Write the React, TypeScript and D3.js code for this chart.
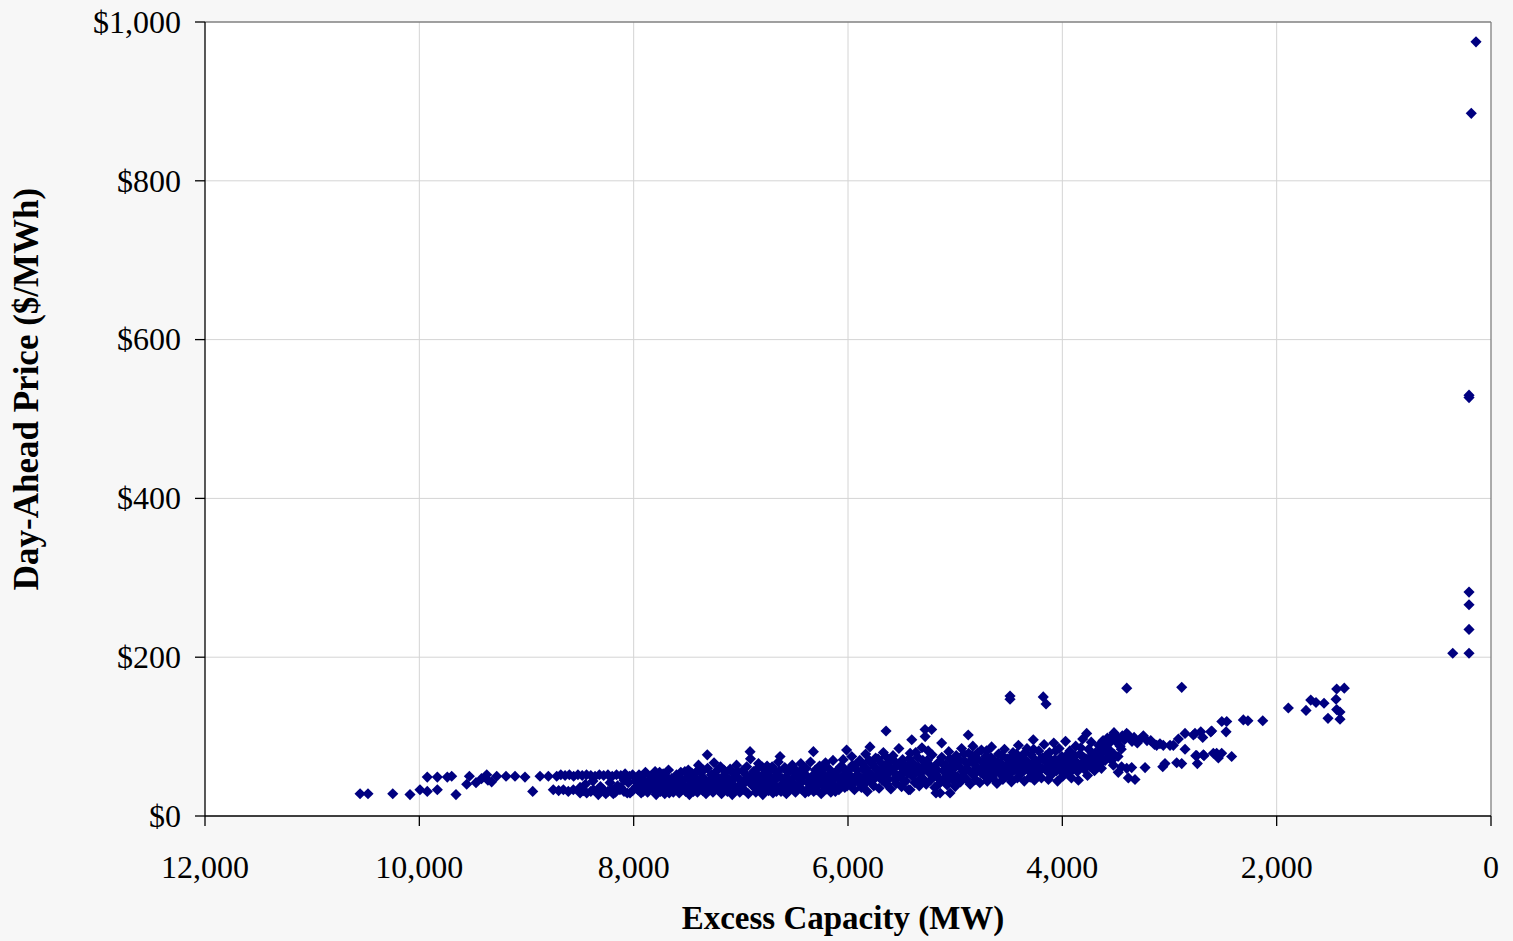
import React from "react";
import * as d3 from "d3";

// Day-ahead price versus excess capacity, one point per hour: [excess MW, $/MWh]
type Pt = [number, number];

const xTicks = [12000, 10000, 8000, 6000, 4000, 2000, 0];
const yTicks = [0, 200, 400, 600, 800, 1000];

const tailHours: Pt[] = [
  [10553, 28], [10479, 28], [10248, 28], [10087, 27],
  [9994, 33], [9926, 31], [9832, 33], [9658, 27], [9926, 49], [9832, 49], [9739, 49], [9698, 50],
  [9533, 50], [9558, 40], [9471, 42], [9371, 52], [9325, 43], [9278, 50], [9191, 50], [9107, 50],
  [9014, 49], [8942, 31], [9420, 47], [9360, 45],
];

const band9000: Pt[] = [
  [8874, 50], [8796, 50], [8718, 50], [8680, 52], [8640, 51], [8600, 52], [8560, 50], [8520, 52],
  [8480, 51], [8440, 52], [8400, 51], [8360, 50], [8320, 52], [8280, 51], [8240, 52], [8200, 50],
  [8160, 52], [8120, 51], [8080, 53], [8040, 50], [8010, 52],
  [8750, 33], [8700, 32], [8656, 33], [8610, 31], [8563, 33], [8500, 29], [8470, 32], [8438, 29],
  [8400, 31], [8376, 33], [8340, 30], [8300, 32], [8283, 33], [8240, 31], [8205, 33], [8170, 30],
  [8128, 33], [8090, 31], [8060, 29], [8034, 29], [8010, 32],
  [8450, 40], [8380, 44], [8310, 37], [8220, 42], [8150, 38], [8090, 45], [8500, 36],
  [8190, 28], [8120, 36], [8050, 42], [8260, 28], [8330, 27],
];

const band8000: Pt[] = [
  [7960, 33], [7950, 52], [7940, 41], [7930, 29], [7920, 47], [7905, 36], [7890, 55],
  [7870, 30], [7860, 44], [7845, 50], [7830, 38], [7815, 33], [7800, 56], [7790, 27],
  [7780, 42], [7765, 48], [7750, 31], [7740, 36], [7725, 53], [7710, 28], [7700, 45],
  [7690, 39], [7675, 58], [7660, 33], [7645, 47], [7630, 30], [7615, 42], [7600, 52],
  [7590, 36], [7575, 29], [7560, 55], [7545, 44], [7530, 38], [7515, 31], [7500, 49],
  [7490, 58], [7480, 27], [7465, 41], [7450, 35], [7435, 52], [7420, 46], [7405, 30],
  [7395, 64], [7380, 38], [7370, 55], [7355, 32], [7340, 47], [7325, 28], [7313, 77], [7310, 60], [7300, 43],
  [7290, 36], [7275, 52], [7260, 30], [7250, 67], [7240, 45], [7225, 57], [7210, 33], [7200, 40],
  [7190, 62], [7180, 28], [7165, 50], [7150, 37], [7140, 55], [7125, 31], [7110, 46], [7100, 59],
  [7090, 42], [7080, 27], [7065, 53], [7050, 35], [7040, 64], [7025, 48], [7010, 30], [7000, 40],
];

const band8000b: Pt[] = [
  [7985, 44], [7975, 37], [7912, 31], [7880, 40], [7852, 34], [7822, 46], [7808, 41], [7772, 35],
  [7758, 55], [7732, 43], [7718, 38], [7682, 48], [7668, 29], [7652, 40], [7622, 35], [7608, 46],
  [7582, 50], [7568, 40], [7552, 33], [7522, 56], [7508, 36], [7472, 48], [7458, 54], [7442, 31],
  [7428, 39], [7412, 56], [7388, 45], [7362, 41], [7348, 58], [7332, 37], [7282, 45], [7268, 40],
  [7232, 35], [7218, 49], [7172, 44], [7158, 58], [7132, 42], [7118, 36], [7072, 46], [7058, 31],
  [7032, 56], [7018, 38],
];

const band7000: Pt[] = [
  [6985, 57], [6970, 33], [6960, 46], [6945, 62], [6930, 28], [6914, 81], [6910, 72], [6900, 51], [6890, 38],
  [6875, 44], [6860, 30], [6850, 59], [6835, 66], [6820, 35], [6810, 48], [6795, 27], [6780, 54],
  [6770, 41], [6755, 63], [6740, 32], [6730, 50], [6715, 45], [6700, 29], [6690, 58], [6675, 37],
  [6660, 52], [6650, 68], [6634, 75], [6625, 31], [6610, 47], [6600, 40], [6590, 61], [6575, 28],
  [6560, 55], [6545, 43], [6530, 35], [6520, 64], [6505, 49], [6490, 30], [6480, 57], [6465, 39],
  [6450, 46], [6440, 66], [6425, 33], [6410, 53], [6400, 29], [6390, 60], [6375, 42], [6360, 36],
  [6350, 68], [6335, 50], [6323, 81], [6320, 31], [6305, 58], [6290, 45], [6280, 38], [6265, 63],
  [6250, 28], [6240, 54], [6225, 41], [6210, 67], [6200, 34], [6190, 48], [6175, 59], [6160, 30],
  [6150, 44], [6140, 70], [6125, 37], [6110, 56], [6100, 49], [6085, 33], [6070, 62], [6060, 42],
  [6045, 71], [6030, 36], [6020, 53], [6013, 83], [6005, 46],
];

const band7000b: Pt[] = [
  [6978, 40], [6952, 52], [6922, 43], [6882, 56], [6868, 36], [6842, 51], [6828, 40], [6802, 62],
  [6788, 36], [6762, 47], [6748, 55], [6722, 38], [6708, 62], [6682, 45], [6668, 31], [6642, 57],
  [6618, 40], [6582, 48], [6568, 36], [6552, 32], [6538, 60], [6512, 41], [6498, 55], [6472, 34],
  [6458, 52], [6432, 43], [6418, 60], [6382, 50], [6368, 31], [6342, 45], [6312, 40], [6298, 33],
  [6272, 50], [6258, 44], [6232, 60], [6218, 36], [6182, 40], [6168, 52], [6132, 48], [6118, 31],
  [6092, 58], [6078, 40], [6052, 50], [6038, 60], [6008, 38],
];

const band6000: Pt[] = [
  [5990, 58], [5980, 39], [5965, 75], [5950, 47], [5940, 33], [5925, 65], [5910, 52], [5900, 42],
  [5890, 70], [5875, 36], [5860, 59], [5850, 48], [5835, 78], [5820, 31], [5810, 55], [5795, 87],
  [5790, 44], [5775, 66], [5760, 38], [5750, 61], [5735, 50], [5720, 72], [5710, 35], [5695, 57],
  [5680, 45], [5670, 80], [5655, 63], [5645, 107], [5640, 40], [5630, 53], [5615, 68], [5600, 34],
  [5590, 59], [5580, 76], [5565, 47], [5550, 41], [5540, 64], [5525, 85], [5515, 52], [5500, 37],
  [5490, 71], [5475, 56], [5460, 44], [5450, 62], [5435, 33], [5421, 33], [5420, 79], [5405, 96],
  [5400, 50], [5390, 66], [5375, 42], [5360, 58], [5350, 74], [5335, 38], [5320, 54], [5310, 86],
  [5300, 47], [5290, 63], [5281, 109], [5280, 100], [5270, 40], [5260, 70], [5245, 55], [5230, 45],
  [5219, 109], [5215, 77], [5200, 60], [5190, 36], [5179, 29], [5175, 52], [5160, 67], [5141, 29],
  [5140, 42], [5126, 92], [5125, 74], [5110, 57], [5100, 48], [5090, 64], [5075, 39], [5060, 81],
  [5048, 29], [5045, 53], [5030, 70], [5020, 45], [5010, 60], [5000, 37],
];

const band6000b: Pt[] = [
  [5972, 50], [5958, 64], [5932, 44], [5918, 58], [5882, 48], [5868, 66], [5842, 41], [5828, 60],
  [5802, 70], [5782, 52], [5768, 45], [5742, 73], [5728, 58], [5702, 48], [5688, 66], [5662, 52],
  [5648, 75], [5622, 46], [5608, 60], [5572, 55], [5558, 68], [5532, 50], [5508, 62], [5482, 45],
  [5468, 64], [5442, 54], [5428, 72], [5412, 60], [5382, 52], [5368, 80], [5342, 62], [5328, 46],
  [5302, 70], [5268, 58], [5252, 82], [5238, 64], [5208, 50], [5168, 58], [5152, 47], [5118, 66],
  [5082, 55], [5068, 46], [5052, 72], [5038, 60], [5012, 51],
];

const band5000: Pt[] = [
  [4990, 76], [4980, 50], [4965, 63], [4950, 43], [4940, 85], [4925, 56], [4910, 69], [4900, 47],
  [4890, 60], [4878, 102], [4875, 79], [4860, 40], [4850, 54], [4835, 88], [4820, 65], [4810, 46],
  [4795, 72], [4780, 58], [4770, 42], [4755, 83], [4740, 62], [4730, 51], [4715, 75], [4700, 44],
  [4690, 67], [4675, 56], [4660, 87], [4650, 48], [4635, 70], [4620, 60], [4610, 41], [4595, 78],
  [4580, 53], [4570, 66], [4555, 46], [4540, 84], [4530, 61], [4515, 72], [4500, 50], [4488, 151],
  [4488, 147], [4490, 65], [4475, 43], [4460, 80], [4450, 58], [4435, 69], [4420, 48], [4410, 89],
  [4395, 62], [4380, 54], [4370, 74], [4355, 44], [4340, 66], [4330, 85], [4315, 57], [4300, 49],
  [4290, 77], [4271, 96], [4275, 63], [4260, 45], [4250, 70], [4235, 55], [4220, 82], [4210, 60],
  [4178, 150], [4152, 141],
];

const band5000b: Pt[] = [
  [4985, 64], [4958, 70], [4932, 50], [4918, 78], [4895, 58], [4868, 68], [4842, 76], [4828, 52],
  [4802, 60], [4788, 80], [4762, 55], [4748, 68], [4722, 60], [4708, 82], [4682, 50], [4668, 74],
  [4642, 62], [4628, 54], [4602, 68], [4588, 60], [4562, 76], [4548, 56], [4522, 52], [4508, 64],
  [4482, 74], [4468, 56], [4442, 64], [4428, 78], [4402, 54], [4388, 72], [4362, 60], [4348, 80],
  [4322, 68], [4308, 62], [4282, 56], [4268, 84], [4242, 66], [4228, 50], [4202, 72],
];

const band4000: Pt[] = [
  [4195, 48], [4185, 73], [4170, 90], [4160, 59], [4145, 67], [4130, 46], [4120, 80], [4110, 62],
  [4095, 53], [4080, 92], [4070, 71], [4055, 57], [4045, 44], [4030, 85], [4020, 65], [4005, 75],
  [3995, 50], [3980, 60], [3970, 94], [3955, 69], [3940, 54], [3930, 82], [3915, 48], [3900, 74],
  [3890, 63], [3875, 88], [3860, 56], [3850, 45], [3835, 78], [3820, 66], [3810, 97], [3795, 59],
  [3780, 72], [3773, 104], [3765, 51], [3755, 84], [3740, 62], [3730, 93], [3715, 70], [3700, 57],
  [3690, 80], [3675, 66], [3660, 89], [3650, 75], [3635, 60], [3620, 95], [3610, 83], [3600, 70],
];

const band4000b: Pt[] = [
  [4188, 60], [4152, 76], [4138, 56], [4102, 70], [4088, 64], [4062, 82], [4038, 60], [4012, 56],
  [3988, 72], [3962, 58], [3948, 78], [3922, 64], [3908, 58], [3882, 76], [3868, 68], [3842, 60],
  [3828, 86], [3802, 74], [3788, 66], [3748, 72], [3722, 78], [3708, 66], [3682, 74], [3642, 82],
  [3628, 68], [3592, 88], [3575, 78], [3552, 74],
];

const band2000: Pt[] = [
  [3580, 98], [3560, 92], [3540, 100], [3518, 105], [3500, 94], [3480, 98], [3460, 88], [3440, 101],
  [3420, 96], [3400, 104], [3384, 102], [3370, 98], [3350, 94], [3330, 99], [3300, 92], [3270, 97],
  [3244, 101], [3210, 95], [3175, 95], [3140, 90], [3120, 89], [3089, 91], [3058, 89], [2995, 89],
  [2964, 89], [2917, 97], [2855, 104], [2777, 102], [2762, 104], [2708, 106], [2690, 99], [2606, 107],
  [2615, 106], [2512, 119], [2472, 106], [2466, 119], [2311, 121], [2268, 120], [2130, 120],
  [2886, 162], [3399, 161],
  [3560, 83], [3520, 78], [3480, 75], [3450, 84], [3540, 70],
  [3524, 64], [3478, 55], [3447, 62], [3399, 60], [3384, 48], [3353, 61], [3322, 46], [3228, 61],
  [3063, 62], [3042, 66], [2933, 67], [2886, 66], [2855, 84], [2755, 76], [2746, 76], [2684, 77],
  [2678, 76], [2591, 79], [2560, 79], [2544, 73], [2513, 79], [2420, 75], [2740, 66],
];

const scarcityHours: Pt[] = [
  [1891, 136], [1726, 133], [1682, 146], [1633, 143], [1558, 142], [1521, 123], [1446, 147],
  [1440, 160], [1440, 134], [1409, 122], [1409, 131], [1369, 161],
  [357, 205], [205, 205], [205, 235], [205, 266], [205, 282], [205, 527], [205, 530], [184, 885], [140, 975],
];

const allHours: Pt[] = [
  ...tailHours, ...band9000, ...band8000, ...band8000b, ...band7000, ...band7000b,
  ...band6000, ...band6000b, ...band5000, ...band5000b, ...band4000, ...band4000b,
  ...band2000, ...scarcityHours,
];

const W = 1513;
const H = 941;
const M = { left: 205, right: 1491, top: 22, bottom: 816 };
const FONT = "'Liberation Serif', 'Times New Roman', serif";

export default function App() {
  const x = d3.scaleLinear().domain([12000, 0]).range([M.left, M.right]);
  const y = d3.scaleLinear().domain([0, 1000]).range([M.bottom, M.top]);
  const diamond = d3.symbol().type(d3.symbolSquare).size(62)() as string;
  const fmtX = d3.format(",");
  const fmtY = (v: number) => "$" + d3.format(",")(v);

  return (
    <div style={{ position: "fixed", left: 0, top: 0, width: W, height: H, background: "#f7f7f7" }}>
      <svg width={W} height={H} style={{ display: "block" }} fontFamily={FONT}>
        <rect x={M.left} y={M.top} width={M.right - M.left} height={M.bottom - M.top} fill="#ffffff" />
        {xTicks.slice(1, -1).map((t) => (
          <line key={"gx" + t} x1={x(t)} x2={x(t)} y1={M.top} y2={M.bottom} stroke="#d4d4d4" strokeWidth={1} />
        ))}
        {yTicks.slice(1, -1).map((t) => (
          <line key={"gy" + t} x1={M.left} x2={M.right} y1={y(t)} y2={y(t)} stroke="#d4d4d4" strokeWidth={1} />
        ))}
        <line x1={M.left} x2={M.right} y1={M.top} y2={M.top} stroke="#808080" strokeWidth={1.3} />
        <line x1={M.right} x2={M.right} y1={M.top} y2={M.bottom} stroke="#808080" strokeWidth={1.3} />

        <g fill="#000080">
          {allHours.map(([mw, p], i) => (
            <path key={i} d={diamond} transform={`translate(${x(mw)},${y(p)}) rotate(45)`} />
          ))}
        </g>

        <line x1={M.left} x2={M.right} y1={M.bottom} y2={M.bottom} stroke="#000" strokeWidth={1.3} />
        <line x1={M.left} x2={M.left} y1={M.top} y2={M.bottom} stroke="#000" strokeWidth={1.3} />

        {xTicks.map((t) => (
          <g key={"tx" + t}>
            <line x1={x(t)} x2={x(t)} y1={M.bottom} y2={M.bottom + 10} stroke="#000" strokeWidth={1.3} />
            <text x={x(t)} y={878} textAnchor="middle" fontSize={32} fill="#000">
              {fmtX(t)}
            </text>
          </g>
        ))}
        {yTicks.map((t) => (
          <g key={"ty" + t}>
            <line x1={M.left - 10} x2={M.left} y1={y(t)} y2={y(t)} stroke="#000" strokeWidth={1.3} />
            <text x={181} y={y(t)} dy="0.34em" textAnchor="end" fontSize={32} fill="#000">
              {fmtY(t)}
            </text>
          </g>
        ))}

        <text x={(M.left + M.right) / 2 - 5} y={929} textAnchor="middle" fontSize={33} fontWeight="bold" fill="#000">
          Excess Capacity (MW)
        </text>
        <text
          transform={`translate(38,${(M.top + M.bottom) / 2 - 30}) rotate(-90)`}
          textAnchor="middle"
          fontSize={35}
          fontWeight="bold"
          fill="#000"
        >
          Day-Ahead Price ($/MWh)
        </text>
      </svg>
    </div>
  );
}
